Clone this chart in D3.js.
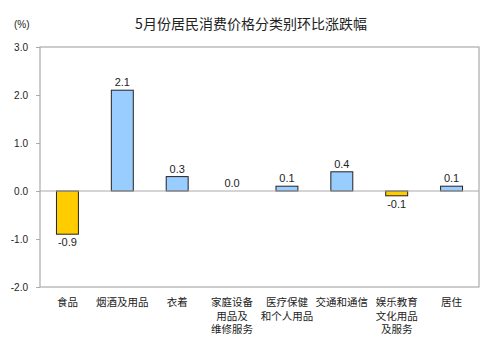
<!DOCTYPE html>
<html><head><meta charset="utf-8">
<script src="https://cdnjs.cloudflare.com/ajax/libs/d3/7.8.5/d3.min.js"></script>
<style>body{margin:0;background:#fff}</style>
</head><body>
<script>
const categories = [["食品"],["烟酒及用品"],["衣着"],["家庭设备","用品及","维修服务"],["医疗保健","和个人用品"],["交通和通信"],["娱乐教育","文化用品","及服务"],["居住"]];
const values = [-0.9, 2.1, 0.3, 0.0, 0.1, 0.4, -0.1, 0.1];
const yTicks = [-2.0, -1.0, 0.0, 1.0, 2.0, 3.0];
const title = "5月份居民消费价格分类别环比涨跌幅";
const unit = "(%)";

const W = 500, H = 358;
const svg = d3.select("body").append("svg").attr("width", W).attr("height", H);
const L = 40, R = 479, T = 47, B = 287;
const x = d3.scaleBand().domain(d3.range(categories.length)).range([L, R]).paddingInner(0.6).paddingOuter(0.3);
const y = d3.scaleLinear().domain([-2, 3]).range([B, T]);
const fmt = d3.formatLocale({decimal: ".", thousands: ",", grouping: [3], currency: ["", ""], minus: "-"}).format(".1f");

const cjk = "'Noto Sans CJK SC', sans-serif";
const lat = "'Liberation Sans', Arial, sans-serif";

svg.append("text").attr("x", 251).attr("y", 29).attr("text-anchor", "middle")
  .attr("font-family", cjk).attr("font-size", 14).attr("fill", "#222").text(title);
svg.append("text").attr("x", 14).attr("y", 28).attr("font-family", lat)
  .attr("font-size", 10).attr("fill", "#222").text(unit);

// plot frame
svg.append("rect").attr("x", L).attr("y", T).attr("width", R - L).attr("height", B - T)
  .attr("fill", "none").attr("stroke", "#aaa").attr("stroke-width", 1.2);

// y axis
const yAxis = d3.axisLeft(y).tickValues(yTicks).tickFormat(fmt).tickSize(4).tickPadding(8);
const ga = svg.append("g").attr("transform", `translate(${L},0)`).call(yAxis);
ga.select(".domain").remove();
ga.selectAll(".tick line").attr("stroke", "#aaa");
ga.selectAll(".tick text").attr("font-family", lat).attr("font-size", 10).attr("fill", "#222");

// bars
svg.selectAll("rect.bar").data(values).join("rect").attr("class", "bar")
  .attr("x", (d, i) => x(i)).attr("width", x.bandwidth())
  .attr("y", d => y(Math.max(0, d))).attr("height", d => Math.abs(y(d) - y(0)))
  .attr("fill", d => d < 0 ? "#ffcc00" : "#99ccff").attr("stroke", "#222").attr("stroke-width", 1);

// zero line
svg.append("line").attr("x1", L).attr("x2", R).attr("y1", y(0)).attr("y2", y(0))
  .attr("stroke", "#aaa").attr("stroke-width", 1.2);

// value labels
svg.selectAll("text.val").data(values).join("text").attr("class", "val")
  .attr("x", (d, i) => x(i) + x.bandwidth() / 2)
  .attr("y", d => d < 0 ? y(d) + 12 : y(d) - 4)
  .attr("text-anchor", "middle").attr("font-family", lat).attr("font-size", 11).attr("fill", "#222")
  .text(d => fmt(d));

// category labels
const cl = svg.selectAll("text.cat").data(categories).join("text").attr("class", "cat")
  .attr("text-anchor", "middle").attr("font-family", cjk).attr("font-size", 10.5).attr("fill", "#222");
cl.each(function(d, i) {
  const t = d3.select(this);
  d.forEach((s, k) => t.append("tspan").attr("x", x(i) + x.bandwidth() / 2).attr("y", 306 + k * 13.5).text(s));
});
</script>
</body></html>
